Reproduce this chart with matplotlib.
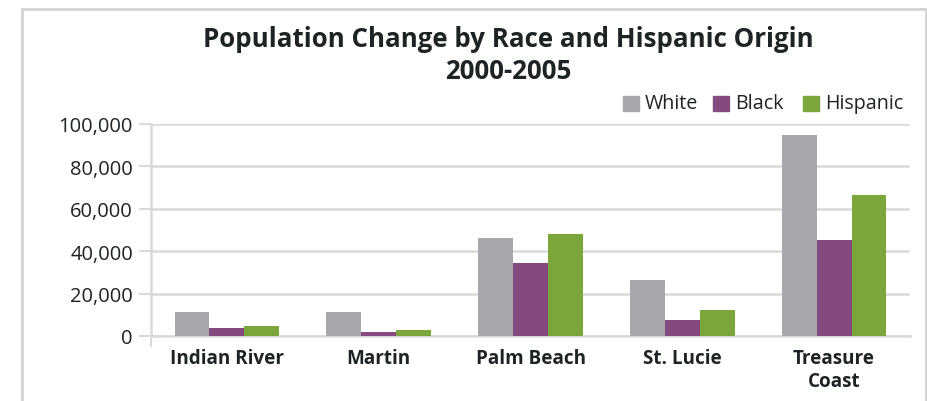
import matplotlib
matplotlib.use("Agg")
import matplotlib.pyplot as plt
from matplotlib.patches import Rectangle
import numpy as np

categories = ["Indian River", "Martin", "Palm Beach", "St. Lucie", "Treasure\nCoast"]
series_names = ["White", "Black", "Hispanic"]
white = [11300, 11300, 46200, 26400, 94800]
black = [3800, 1900, 34400, 7500, 45300]
hispanic = [4700, 2800, 48100, 12300, 66500]
yticks = [0, 20000, 40000, 60000, 80000, 100000]
ytick_labels = ["0", "20,000", "40,000", "60,000", "80,000", "100,000"]
title = "Population Change by Race and Hispanic Origin\n2000-2005"

colors = ["#A7A8AB", "#84497F", "#7CA53C"]
text_color = "#1E2326"
grid_color = "#D9D9D9"
font = "Open Sans"

W, H = 928, 402
fig = plt.figure(figsize=(W / 100, H / 100), dpi=100)
ax = fig.add_axes([151 / W, 1 - 337 / H, (910 - 151) / W, (337 - 125) / H])

x = np.arange(len(categories))
bw = 0.23
for i, (vals, c) in enumerate(zip([white, black, hispanic], colors)):
    ax.bar(x + (i - 1) * bw, vals, width=bw, color=c, zorder=3)

ax.set_xlim(-0.5, len(categories) - 0.5)
ax.set_ylim(0, 100000)
ax.set_yticks(yticks)
ax.set_yticklabels(ytick_labels, fontfamily=font, fontsize=14.5, color=text_color)
ax.set_xticks(x)
ax.set_xticklabels(categories, fontfamily=font, fontsize=13.6, fontweight="bold",
                   color=text_color, linespacing=1.2)
ax.tick_params(axis="x", length=0, pad=9)
ax.tick_params(axis="y", length=9, width=1.5, color=grid_color, pad=4)
ax.set_xticks([-0.5], minor=True)
ax.tick_params(axis="x", which="minor", length=8, width=1.5, color=grid_color)

ax.grid(axis="y", color=grid_color, linewidth=1.8, zorder=0)
for s in ["top", "right"]:
    ax.spines[s].set_visible(False)
ax.spines["bottom"].set_color(grid_color)
ax.spines["bottom"].set_linewidth(1.8)
ax.spines["left"].set_color(grid_color)
ax.spines["left"].set_linewidth(1.8)

fig.text(508 / W, 1 - 26 / H, title, ha="center", va="top", fontfamily=font,
         fontsize=18.6, fontweight="bold", color=text_color, linespacing=1.25)

# legend
leg_x = [623, 713, 803]
for name, c, lx in zip(series_names, colors, leg_x):
    fig.patches.append(Rectangle((lx / W, 1 - 112 / H), 16 / W, 15 / H,
                                 transform=fig.transFigure, color=c))
    fig.text((lx + 22) / W, 1 - 104 / H, name, ha="left", va="center",
             fontfamily=font, fontsize=14.2, color=text_color)

# outer border
fig.patches.append(Rectangle((22 / W, -0.05), (926.5 - 22) / W, 1.05 - 10 / H,
                             transform=fig.transFigure, fill=False,
                             edgecolor="#D3D3D3", linewidth=2))

fig.savefig("out.png", dpi=100)
